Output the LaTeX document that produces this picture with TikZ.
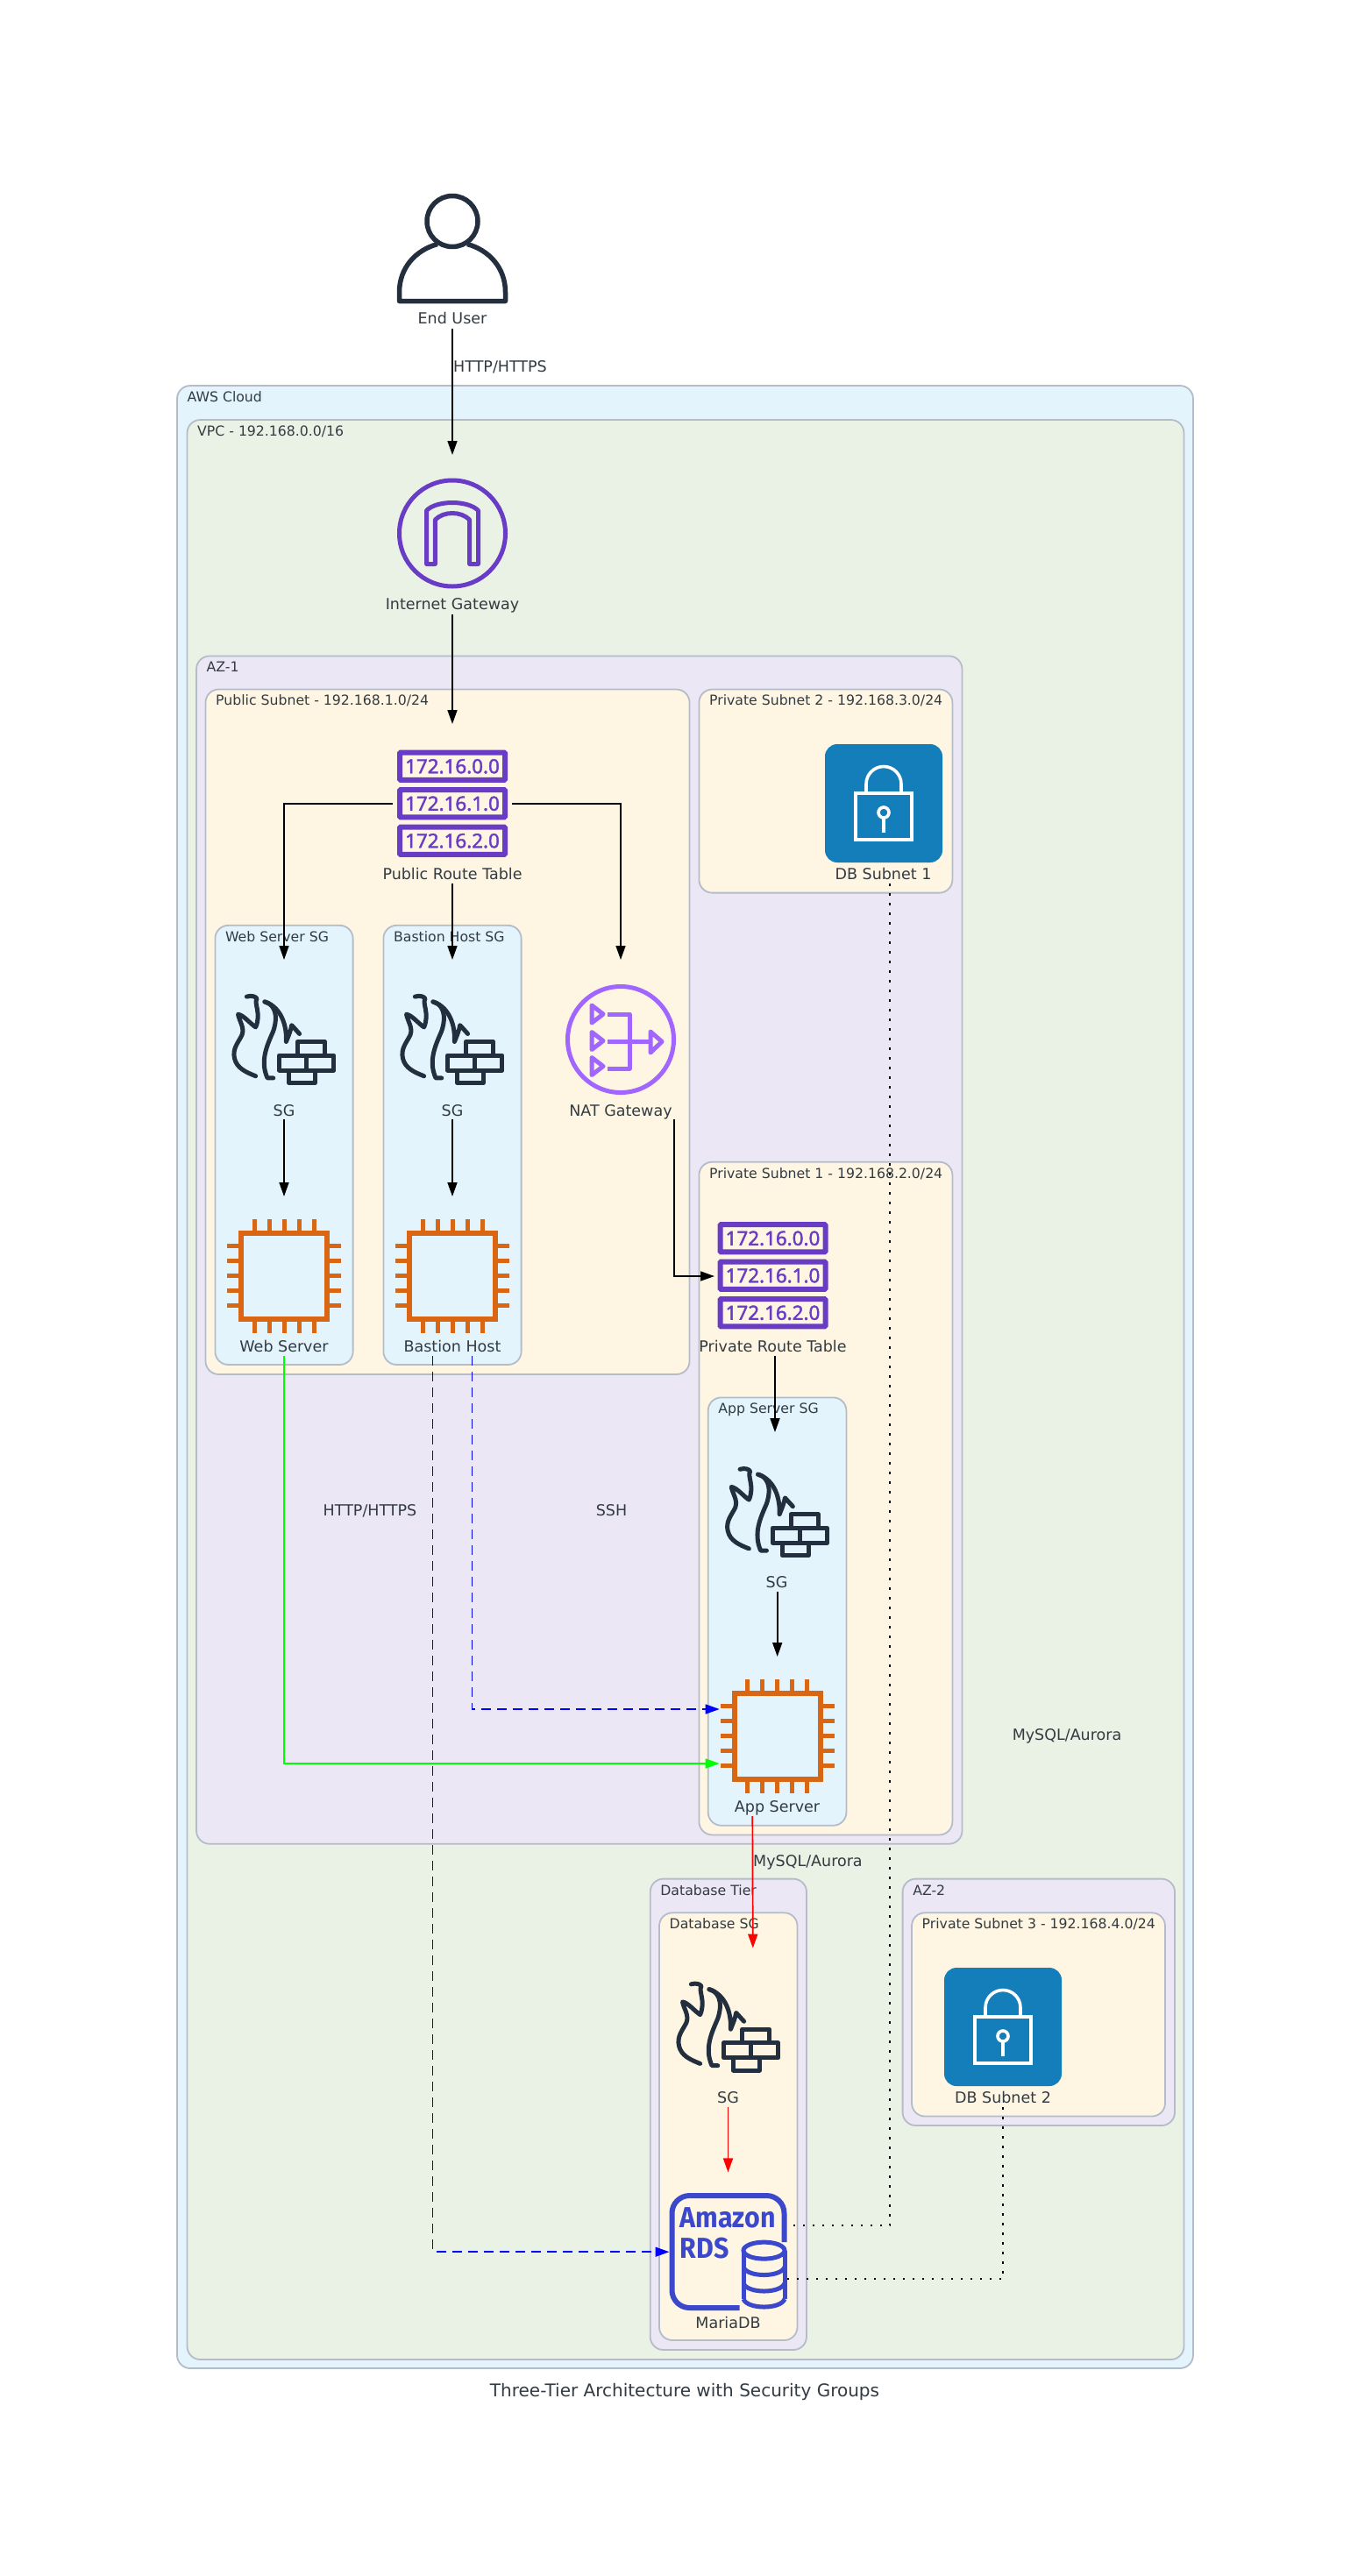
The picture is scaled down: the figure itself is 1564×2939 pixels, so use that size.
\documentclass[tikz,border=0pt]{standalone}
\usepackage{fontspec}
\setmainfont{DejaVu Sans}
\newfontfamily\rtf[FakeBold=1.8]{Noto Sans}
\newfontfamily\rdsf[FakeStretch=0.92]{Fira Sans Bold}
\usetikzlibrary{arrows.meta,calc}
\definecolor{cloudfill}{HTML}{E3F4FC}
\definecolor{vpcfill}{HTML}{EAF2E6}
\definecolor{azfill}{HTML}{EBE7F5}
\definecolor{subnetfill}{HTML}{FEF6E3}
\definecolor{grpline}{HTML}{B5BCC9}
\definecolor{inktext}{HTML}{333B42}
\definecolor{navy}{HTML}{232F3E}
\definecolor{igwpurple}{HTML}{693CC5}
\definecolor{natpurple}{HTML}{A166FF}
\definecolor{chiporange}{HTML}{D86613}
\definecolor{lockblue}{HTML}{147EBA}
\definecolor{rdsblue}{HTML}{3B48CC}
\tikzset{
  grp/.style={rectangle,draw=grpline,line width=1.8pt,rounded corners=15pt,inner sep=0pt,outer sep=0pt,anchor=north west},
  glabel/.style={text=inktext,anchor=west,inner sep=0pt,font=\fontsize{15.7}{18}\selectfont,text height=14.6pt,text depth=3pt},
  nlabel/.style={text=inktext,inner sep=0pt,font=\fontsize{17.5}{20}\selectfont,text height=16.5pt,text depth=3.5pt},
  frame/.style={rectangle,inner sep=0pt,outer sep=0pt},
  edge/.style={draw=black,line width=1.7pt,-{Triangle[length=16pt,width=11pt]}},
  rededge/.style={edge,draw=red,fill=red},
  greenedge/.style={edge,draw=green,line width=1.5pt},
  blueedge/.style={edge,draw=blue,line width=1.5pt,dash pattern=on 11pt off 7pt},
  dotedge/.style={draw=black,line width=1.8pt,dash pattern=on 2.5pt off 8.5pt},
  fwall/.pic={
    \begin{scope}[x=0.4464pt,y=-0.4464pt,shift={(-232.5,-415)},draw=navy,line width=5pt,line cap=round,line join=round]
      \draw (137,307) .. controls (150,303) and (160,307) .. (163,312) .. controls (155,325) and (175,350) .. (160,385)
        .. controls (145,375) and (130,355) .. (115,352) .. controls (118,370) and (132,385) .. (125,405)
        .. controls (115,425) and (100,440) .. (106,465) .. controls (112,490) and (135,500) .. (160,510);
      \draw (183,320) .. controls (205,325) and (220,350) .. (205,395) .. controls (190,430) and (170,470) .. (190,515) -- (205,515);
      \draw (183,320) .. controls (215,330) and (240,365) .. (238,422) .. controls (245,405) and (250,392) .. (252,380) -- (272,402);
      \draw[line cap=butt,miter limit=4] (220,457) rectangle (360,495) (290,457) -- (290,495);
      \draw[line cap=butt] (267,457) -- (267,422) -- (337,422) -- (337,457);
      \draw[line cap=butt] (245,495) -- (245,527) -- (312,527) -- (312,495);
    \end{scope}
  },
  cpu/.pic={
    \draw[chiporange,line width=5.8pt] (-49,-49) rectangle (49,49);
    \foreach \o in {-34,-17,0,17,34}{
      \draw[chiporange,line width=5pt] (\o,-52) -- (\o,-65) (\o,52) -- (\o,65) (-52,\o) -- (-65,\o) (52,\o) -- (65,\o);
    }
  },
  rtable/.pic={
    \foreach \o/\t in {-42.5/172.16.0.0,0/172.16.1.0,42.5/172.16.2.0}{
      \draw[igwpurple,line width=6pt,rounded corners=1pt] (-60,\o-15.6) rectangle (60,\o+15.6);
      \node[text=igwpurple,inner sep=0pt,font=\rtf\fontsize{22.4}{24}\selectfont] at (0,\o) {\t};
    }
  },
  igwicon/.pic={
    \draw[igwpurple,line width=5pt] (0,0) circle (60.5);
    \draw[igwpurple,line width=5pt,line join=round] (-19.6,35) -- (-29.5,35) -- (-29.5,-26) .. controls (-18,-38) and (18,-38) .. (29.5,-26) -- (29.5,35) -- (19.6,35) -- (19.6,-15.5) .. controls (10,-25.5) and (-10,-25.5) .. (-19.6,-15.5) -- cycle;
  },
  naticon/.pic={
    \begin{scope}[draw=natpurple,line width=5pt,line join=round]
      \draw (0,0) circle (60.5);
      \foreach \o in {-29,1.5,30.5}{\draw (-33,\o-10) -- (-20,\o) -- (-33,\o+10) -- cycle;}
      \draw (-15,-29) -- (10,-29) -- (10,33) -- (-15,33);
      \draw (-15,2.4) -- (34,2.4);
      \draw (34,-9) -- (47,2.4) -- (34,15) -- cycle;
    \end{scope}
  },
  lockicon/.pic={
    \fill[lockblue] (-67,-67.5) [rounded corners=14pt] rectangle (67,67.5);
    \begin{scope}[draw=white,line width=3.6pt]
      \draw (-32,-11.5) rectangle (32,41.5);
      \draw (-20,-11.5) -- (-20,-22) arc[start angle=180,end angle=0,x radius=20,y radius=-20] -- (20,-11.5);
      \draw (0,10.5) circle (6);
      \draw (0,16.5) -- (0,33);
    \end{scope}
  },
  rdsicon/.pic={
    \draw[rdsblue,line width=6pt,rounded corners=20pt] (64,-11) -- (64,-64) -- (-64,-64) -- (-64,64) -- (13,64);
    \node[text=rdsblue,inner sep=0pt,anchor=base west,font=\rdsf\fontsize{33}{34}\selectfont] at (-55,-27.5) {Amazon};
    \node[text=rdsblue,inner sep=0pt,anchor=base west,font=\rdsf\fontsize{33}{34}\selectfont] at (-55,7) {RDS};
    \begin{scope}[draw=rdsblue,line width=5pt]
      \draw (41,-1.4) ellipse (23.5 and 9.5);
      \draw (17.5,-1.4) -- (17.5,54) (64.5,-1.4) -- (64.5,54);
      \foreach \o in {17.5,36,54}{
        \draw (17.5,\o) .. controls (22,\o+12) and (60,\o+12) .. (64.5,\o);
      }
    \end{scope}
  },
  usericon/.pic={
    \draw[navy,line width=5.5pt] (0,-61) circle (29);
    \draw[navy,line width=5.5pt,line join=round] (-17,-35) .. controls (-42,-28) and (-60.5,-8) .. (-60.5,20) -- (-60.5,30) -- (60.5,30) -- (60.5,20) .. controls (60.5,-8) and (42,-28) .. (17,-35);
  }
}
% name, fill, x1, y1, x2, y2, label
\newcommand{\grpbox}[7]{%
  \pgfmathsetmacro{\boxw}{#5-#3}\pgfmathsetmacro{\boxh}{#6-#4}%
  \node[grp,fill=#2,minimum width=\boxw pt,minimum height=\boxh pt] (#1) at (#3,#4) {};
  \node[glabel] (#1-label) at ($(#1.north west)+(11.5,12.6)$) {#7};
}
% name, centre x, top y, bottom y, width
\newcommand{\hitbox}[5]{%
  \pgfmathsetmacro{\boxh}{#4-#3}\pgfmathsetmacro{\boxc}{(#4+#3)/2}%
  \node[frame,minimum width=#5 pt,minimum height=\boxh pt] (#1) at (#2,\boxc) {};
}
\begin{document}
\begin{tikzpicture}[x=1pt,y=-1pt]
\useasboundingbox (0,0) rectangle (1564,2939);
\fill[white] (0,0) rectangle (1564,2939);

\grpbox{cloud}{cloudfill}{202}{440}{1361}{2702}{AWS Cloud}
\grpbox{vpc}{vpcfill}{213.5}{479}{1350.5}{2692}{VPC - 192.168.0.0/16}
\grpbox{az1}{azfill}{224}{748.5}{1097.5}{2103.7}{AZ-1}
\grpbox{pub}{subnetfill}{234.5}{786.5}{786.5}{1568}{Public Subnet - 192.168.1.0/24}
\grpbox{priv2}{subnetfill}{797.4}{786.5}{1086.4}{1018.6}{Private Subnet 2 - 192.168.3.0/24}
\grpbox{priv1}{subnetfill}{797.4}{1325.7}{1086.4}{2093.4}{Private Subnet 1 - 192.168.2.0/24}
\grpbox{websgbox}{cloudfill}{245.4}{1055.8}{402.6}{1557}{Web Server SG}
\grpbox{bastsgbox}{cloudfill}{437.4}{1055.8}{594.6}{1557}{Bastion Host SG}
\grpbox{appsgbox}{cloudfill}{807.7}{1594.4}{965.4}{2082.7}{App Server SG}
\grpbox{dbtier}{azfill}{741.7}{2143.6}{920}{2681}{Database Tier}
\grpbox{dbsgbox}{subnetfill}{752}{2182.3}{909.5}{2670}{Database SG}
\grpbox{az2}{azfill}{1029.6}{2143.6}{1340}{2425}{AZ-2}
\grpbox{priv3}{subnetfill}{1040}{2182.3}{1329}{2414.5}{Private Subnet 3 - 192.168.4.0/24}

% connection frames of the nodes
\hitbox{user}{516}{220}{375}{136}
\hitbox{igw}{516}{519}{700.5}{136}
\hitbox{prt}{516}{826}{1008}{136}
\hitbox{websg}{324}{1095}{1277}{136}
\hitbox{bastsg}{516}{1095}{1277}{136}
\hitbox{nat}{708}{1095}{1277}{136}
\hitbox{web}{324}{1365}{1547}{136}
\hitbox{bast}{516}{1365}{1547}{136}
\hitbox{pvrt}{884}{1365}{1547}{138}
\hitbox{appsg}{886.7}{1634}{1816}{136}
\hitbox{app}{886.7}{1890}{2072}{132}
\hitbox{dbsg}{830.5}{2222.6}{2404}{136}
\hitbox{db}{830.5}{2478.4}{2660}{134}
\hitbox{dba}{1008}{830}{1008}{136}
\hitbox{dbb}{1144}{2226}{2404}{136}

% icons
\pic at (516,313.5) {usericon};
\pic at (516,608.5) {igwicon};
\pic at (516,916.8) {rtable};
\pic at (324,1185.3) {fwall};
\pic at (516,1185.3) {fwall};
\pic at (708,1186) {naticon};
\pic at (324,1455.6) {cpu};
\pic at (516,1455.6) {cpu};
\pic at (881.5,1455.3) {rtable};
\pic at (886.7,1724.5) {fwall};
\pic at (886.7,1980.6) {cpu};
\pic at (831,2312) {fwall};
\pic at (830.5,2569) {rdsicon};
\pic at (1008,916.5) {lockicon};
\pic at (1144,2312.5) {lockicon};

% node labels
\node[nlabel] (userL) at (516,363) {End User};
\node[nlabel] (igwL) at (516,689) {Internet Gateway};
\node[nlabel] (prtL) at (516,997) {Public Route Table};
\node[nlabel] (websgL) at (324,1266.5) {SG};
\node[nlabel] (bastsgL) at (516,1266.5) {SG};
\node[nlabel] (natL) at (708,1266.5) {NAT Gateway};
\node[nlabel] (webL) at (324,1535.7) {Web Server};
\node[nlabel] (bastL) at (516,1535.7) {Bastion Host};
\node[nlabel] (pvrtL) at (881.5,1535.7) {Private Route Table};
\node[nlabel] (appsgL) at (886,1805) {SG};
\node[nlabel] (appL) at (886.5,2061.4) {App Server};
\node[nlabel] (dbsgL) at (830.5,2393.4) {SG};
\node[nlabel] (dbL) at (830.5,2649.6) {MariaDB};
\node[nlabel] (dbaL) at (1007.5,997) {DB Subnet 1};
\node[nlabel] (dbbL) at (1144,2393.4) {DB Subnet 2};

% connectors
\draw[edge] (user.south) -- (igw.north);
\draw[edge] (igw.south) -- (prt.north);
\draw[edge,line width=1.5pt] (prt.west) -| (websg.north);
\draw[edge] (prt.south) -- (bastsg.north);
\draw[edge,line width=1.5pt] (prt.east) -| (nat.north);
\draw[edge] (websg.south) -- (web.north);
\draw[edge] (bastsg.south) -- (bast.north);
\draw[edge,line width=1.5pt] ($(nat.south)+(61,0)$) |- (pvrt.west);
\draw[edge] (pvrt.south) -- (pvrt.south |- appsg.north);
\draw[edge] (appsg.south) -- (app.north);
\draw[rededge] ($(app.south)+(-28.4,0)$) -- ($(dbsg.north)+(28.3,0)$);
\draw[rededge] (dbsg.south) -- (db.north);
\draw[greenedge] (web.south) |- ($(app.west)+(0,31)$);
\draw[blueedge] ($(bast.south)+(-22.3,0)$) |- (db.west);
\draw[blueedge] ($(bast.south)+(22.3,0)$) |- ($(app.west)+(0,-31)$);
\draw[dotedge] ($(dba.south)+(7,0)$) |- ($(db.east)+(0,-30)$);
\draw[dotedge] (dbb.south) |- ($(db.east)+(0,31)$);

% connector labels
\node[nlabel,anchor=west] (l1) at (517,418) {HTTP/HTTPS};
\node[nlabel] (l2) at (422,1723) {HTTP/HTTPS};
\node[nlabel] (l3) at (697.5,1723) {SSH};
\node[nlabel] (l4) at (1217,1979) {MySQL/Aurora};
\node[nlabel,anchor=west] (l5) at (859,2122.7) {MySQL/Aurora};

\node[text=inktext,inner sep=0pt,font=\fontsize{20}{24}\selectfont] (title) at (781,2729) {Three-Tier Architecture with Security Groups};
\end{tikzpicture}
\end{document}
